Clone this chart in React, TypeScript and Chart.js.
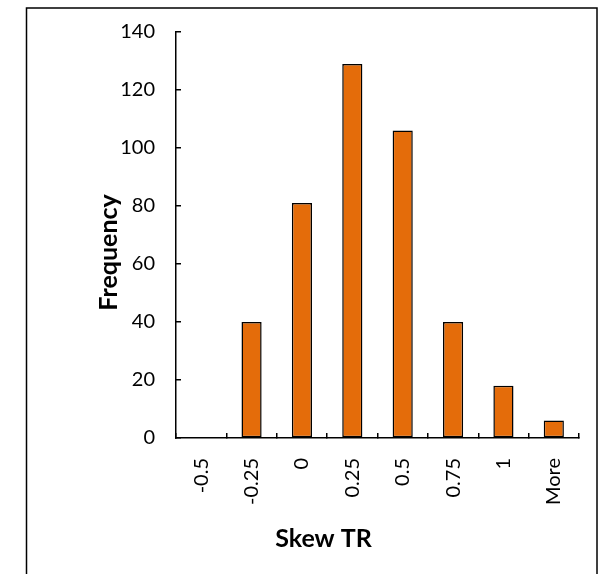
import React, { useEffect, useRef } from "react";
import { Chart, registerables } from "chart.js";

Chart.register(...registerables);

const categories = ["-0.5", "-0.25", "0", "0.25", "0.5", "0.75", "1", "More"];
const frequencies = [0, 40, 81, 129, 106, 40, 18, 6];
const yTitle = "Frequency";
const xTitle = "Skew TR";

const FONT = "Lato, 'Open Sans', sans-serif";

const framePlugin = {
  id: "frame",
  afterDraw(chart: any) {
    const ctx = chart.ctx;
    ctx.save();
    ctx.strokeStyle = "#000";
    ctx.lineWidth = 1.5;
    ctx.strokeRect(26.5, 8, 570.5, 600);
    ctx.fillStyle = "#000";
    ctx.font = `bold 25px ${FONT}`;
    ctx.textAlign = "center";
    ctx.textBaseline = "alphabetic";
    ctx.fillText(xTitle, 323.5, 547);
    ctx.translate(117, 252.5);
    ctx.rotate(-Math.PI / 2);
    ctx.fillText(yTitle, 0, 0);
    ctx.restore();
  },
};

export default function App() {
  const ref = useRef<HTMLCanvasElement>(null);
  useEffect(() => {
    if (!ref.current) return;
    const chart = new Chart(ref.current, {
      type: "bar",
      data: {
        labels: categories,
        datasets: [
          {
            data: frequencies,
            backgroundColor: "#E46C0A",
            borderColor: "#000",
            borderWidth: 1.5,
            borderSkipped: false,
            barPercentage: 0.4,
            categoryPercentage: 1.0,
          },
        ],
      },
      options: {
        responsive: false,
        animation: false,
        devicePixelRatio: 1,
        layout: { padding: { left: 0, right: 23, top: 32, bottom: 0 } },
        plugins: { legend: { display: false }, tooltip: { enabled: false } },
        scales: {
          x: {
            offset: true,
            grid: {
              display: true,
              drawOnChartArea: false,
              drawTicks: true,
              tickLength: -5,
              color: "#000",
              lineWidth: 1.5,
              offset: true,
            },
            border: { display: true, color: "#000", width: 1.5 },
            ticks: {
              minRotation: 90,
              maxRotation: 90,
              padding: 25,
              color: "#000",
              font: { family: FONT, size: 20 },
            },
            afterFit: (s: any) => {
              s.height = 136;
              s.paddingLeft = 0;
              s.paddingRight = 0;
            },
          },
          y: {
            min: 0,
            max: 140,
            grid: {
              display: true,
              drawOnChartArea: false,
              drawTicks: true,
              tickLength: -5,
              color: "#000",
              lineWidth: 1.5,
            },
            border: { display: true, color: "#000", width: 1.5 },
            ticks: {
              stepSize: 20,
              padding: 26,
              color: "#000",
              font: { family: FONT, size: 20 },
            },
            afterFit: (s: any) => {
              s.width = 176;
              s.paddingTop = 0;
              s.paddingBottom = 0;
            },
          },
        },
      },
      plugins: [framePlugin],
    });
    return () => chart.destroy();
  }, []);
  return (
    <div style={{ position: "fixed", left: 0, top: 0, width: 602, height: 574, background: "#fff" }}>
      <canvas ref={ref} width={602} height={574} />
    </div>
  );
}
